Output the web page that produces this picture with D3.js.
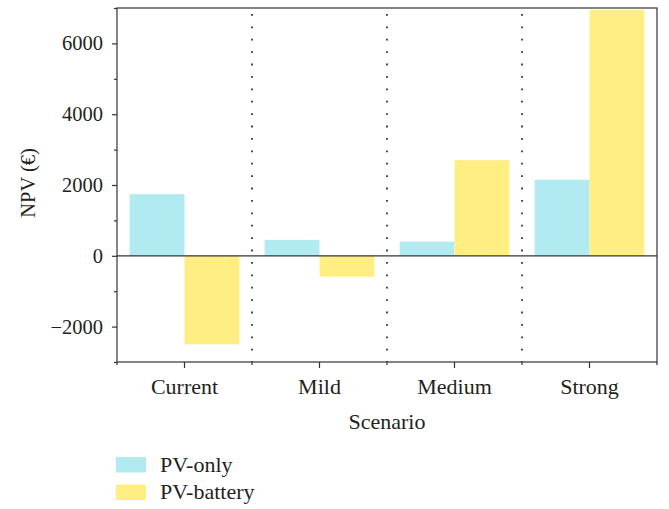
<!DOCTYPE html>
<html>
<head>
<meta charset="utf-8">
<script src="https://cdn.jsdelivr.net/npm/d3@7"></script>
<style>
  body { margin: 0; background: #fff; }
  svg text { font-family: "Liberation Serif", "DejaVu Serif", serif; fill: #231f20; }
</style>
</head>
<body>
<svg id="chart"></svg>
<script>
const scenarios = ['Current', 'Mild', 'Medium', 'Strong'];
const seriesNames = ['PV-only', 'PV-battery'];
const pvOnly = [1740, 450, 400, 2150];
const pvBattery = [-2500, -590, 2700, 6950];
const yTicks = [-2000, 0, 2000, 4000, 6000];
const yMinorTicks = [-3000, -1000, 1000, 3000, 5000, 7000];

const width = 669, height = 509;
const margin = { top: 8, right: 12, bottom: 147, left: 117 }; // plot box 117..657 x 8..362
const colors = ['#b1ebf1', '#ffee82'];
const numSize = '20.5px';  // digits
const wordSize = '22px';   // words look wider in the original face

const svg = d3.select('#chart').attr('width', width).attr('height', height);

const x = d3.scaleBand().domain(scenarios).range([margin.left, width - margin.right]);
const inner = d3.scaleBand().domain(seriesNames).range([0, x.bandwidth()]).paddingOuter(0.23);
const y = d3.scaleLinear().domain([-3000, 7000]).range([height - margin.bottom, margin.top]);

const rows = scenarios.map((s, i) => ({ s, vals: [pvOnly[i], pvBattery[i]] }));

// bars
const groups = svg.append('g').selectAll('g').data(rows).enter().append('g')
  .attr('transform', d => `translate(${x(d.s)},0)`);
groups.selectAll('rect')
  .data(d => d.vals.map((v, j) => ({ name: seriesNames[j], v, j })))
  .enter().append('rect')
  .attr('x', d => inner(d.name))
  .attr('width', inner.bandwidth())
  .attr('y', d => y(Math.max(0, d.v)))
  .attr('height', d => Math.abs(y(d.v) - y(0)))
  .attr('fill', d => colors[d.j]);

// dotted separators between scenarios
const seps = scenarios.slice(1).map(s => x(s));
svg.append('g').selectAll('line').data(seps).enter().append('line')
  .attr('x1', d => d).attr('x2', d => d)
  .attr('y1', margin.top + 6).attr('y2', height - margin.bottom)
  .attr('stroke', '#333').attr('stroke-width', 1.8)
  .attr('stroke-dasharray', '1.8,10.6');

// zero line
svg.append('line')
  .attr('x1', margin.left).attr('x2', width - margin.right)
  .attr('y1', y(0)).attr('y2', y(0))
  .attr('stroke', '#333').attr('stroke-width', 1.2);

// frame
svg.append('rect')
  .attr('x', margin.left).attr('y', margin.top)
  .attr('width', width - margin.left - margin.right)
  .attr('height', height - margin.top - margin.bottom)
  .attr('fill', 'none').attr('stroke', '#333').attr('stroke-width', 1.2);

// y axis
const yAxis = svg.append('g')
  .attr('transform', `translate(${margin.left},0)`)
  .call(d3.axisLeft(y).tickValues(yTicks).tickSize(5).tickPadding(9)
    .tickFormat(d => d < 0 ? '\u2212' + Math.abs(d) : d));
yAxis.select('.domain').remove();
yAxis.selectAll('line').attr('stroke', '#333').attr('stroke-width', 1.2);
yAxis.selectAll('text').style('font-size', numSize);

svg.append('g').attr('transform', `translate(${margin.left},0)`)
  .call(d3.axisLeft(y).tickValues(yMinorTicks).tickSize(3).tickFormat(''))
  .call(g => g.select('.domain').remove())
  .selectAll('line').attr('stroke', '#333').attr('stroke-width', 1.2);

// x axis
const xAxis = svg.append('g')
  .attr('transform', `translate(0,${height - margin.bottom})`)
  .call(d3.axisBottom(x).tickSize(6).tickPadding(10));
xAxis.select('.domain').remove();
xAxis.selectAll('line').attr('stroke', '#333').attr('stroke-width', 1.2);
xAxis.selectAll('text').style('font-size', wordSize);

svg.append('g').selectAll('line').data([margin.left, ...seps, width - margin.right]).enter().append('line')
  .attr('x1', d => d).attr('x2', d => d)
  .attr('y1', height - margin.bottom).attr('y2', height - margin.bottom + 3)
  .attr('stroke', '#333').attr('stroke-width', 1.2);

// axis titles
svg.append('text')
  .attr('transform', `translate(35,${y(2000) - 2}) rotate(-90)`)
  .attr('text-anchor', 'middle')
  .style('font-size', numSize)
  .text('NPV (\u20AC)');

svg.append('text')
  .attr('x', (margin.left + width - margin.right) / 2)
  .attr('y', 429)
  .attr('text-anchor', 'middle')
  .style('font-size', wordSize)
  .text('Scenario');

// legend
const legend = svg.append('g').attr('transform', 'translate(116,457)');
seriesNames.forEach((name, i) => {
  const item = legend.append('g').attr('transform', `translate(0,${i * 27.5})`);
  item.append('rect').attr('width', 30).attr('height', 15.5).attr('fill', colors[i]);
  item.append('text').attr('x', 44).attr('y', 14.5).style('font-size', wordSize).text(name);
});
</script>
</body>
</html>
